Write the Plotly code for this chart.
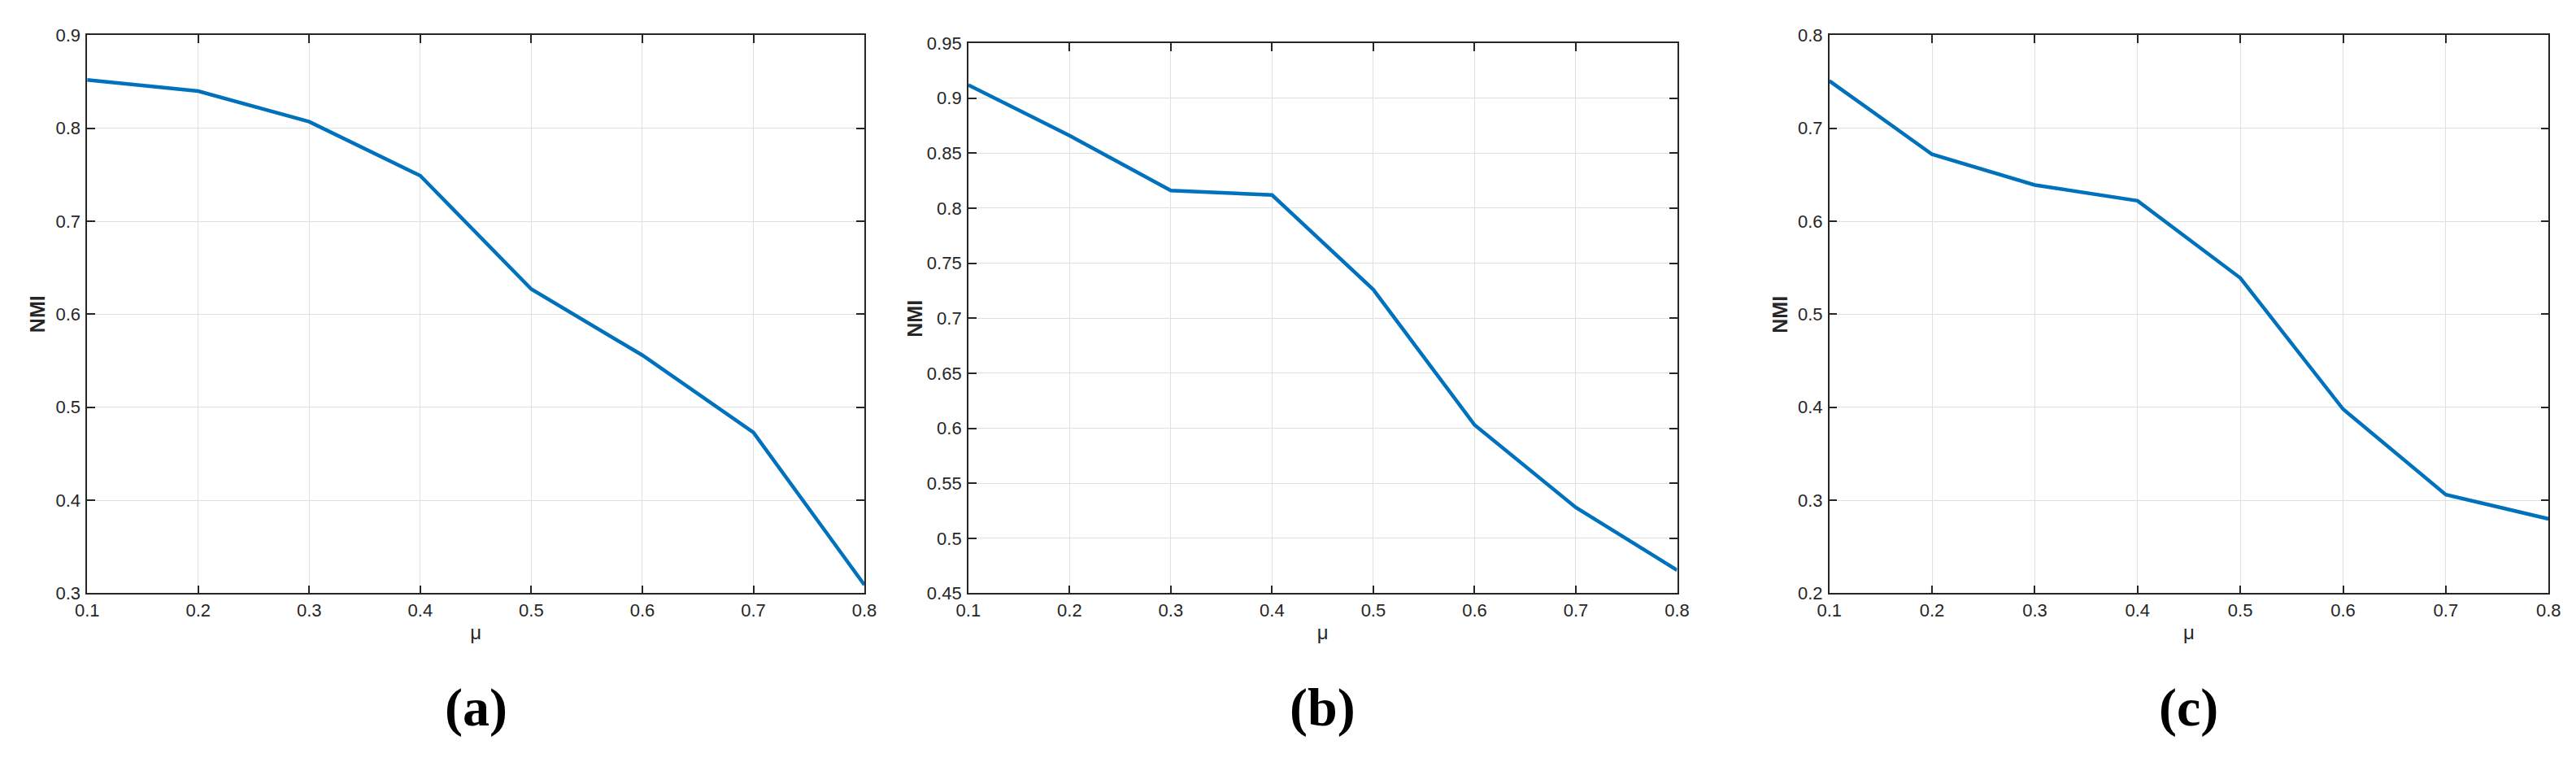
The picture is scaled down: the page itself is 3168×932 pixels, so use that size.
import plotly.graph_objects as go

mu = [0.1, 0.2, 0.3, 0.4, 0.5, 0.6, 0.7, 0.8]
nmi_a = [0.852, 0.840, 0.807, 0.749, 0.627, 0.556, 0.473, 0.309]
nmi_b = [0.912, 0.866, 0.816, 0.812, 0.726, 0.603, 0.528, 0.471]
nmi_c = [0.751, 0.672, 0.639, 0.622, 0.539, 0.398, 0.306, 0.280]

x_ticks = [0.1, 0.2, 0.3, 0.4, 0.5, 0.6, 0.7, 0.8]
x_ticktext = ["0.1", "0.2", "0.3", "0.4", "0.5", "0.6", "0.7", "0.8"]
ya_ticks = [0.3, 0.4, 0.5, 0.6, 0.7, 0.8, 0.9]
ya_text = ["0.3", "0.4", "0.5", "0.6", "0.7", "0.8", "0.9"]
yb_ticks = [0.45, 0.5, 0.55, 0.6, 0.65, 0.7, 0.75, 0.8, 0.85, 0.9, 0.95]
yb_text = ["0.45", "0.5", "0.55", "0.6", "0.65", "0.7", "0.75", "0.8", "0.85", "0.9", "0.95"]
yc_ticks = [0.2, 0.3, 0.4, 0.5, 0.6, 0.7, 0.8]
yc_text = ["0.2", "0.3", "0.4", "0.5", "0.6", "0.7", "0.8"]
panel_labels = ["(a)", "(b)", "(c)"]
x_title = "μ"
y_title = "NMI"

W, H = 3168, 932
LINE = "#0072BD"
AX = "#262626"
GRID = "#e0e0e0"

panels = [
    dict(y=nmi_a, yt=ya_ticks, ytt=ya_text, rng=[0.3, 0.9], x0=85, x1=1050, top=24, ylab=24),
    dict(y=nmi_b, yt=yb_ticks, ytt=yb_text, rng=[0.45, 0.95], x0=1179, x1=2059, top=34, ylab=1113),
    dict(y=nmi_c, yt=yc_ticks, ytt=yc_text, rng=[0.2, 0.8], x0=2248, x1=3141, top=24, ylab=2187),
]
bottom = 729

fig = go.Figure()
layout = dict(width=W, height=H, margin=dict(l=0, r=0, t=0, b=0),
              paper_bgcolor="white", plot_bgcolor="white", showlegend=False,
              font=dict(family="Liberation Sans, Arial, sans-serif", color=AX))
annotations = []
for i, p in enumerate(panels):
    n = "" if i == 0 else str(i + 1)
    fig.add_trace(go.Scatter(x=mu, y=p["y"], mode="lines",
                             line=dict(color=LINE, width=4.5),
                             xaxis="x" + n, yaxis="y" + n))
    common = dict(showline=True, linecolor=AX, linewidth=1.5, mirror="allticks",
                  ticks="inside", ticklen=10, tickwidth=1.5, tickcolor=AX,
                  showgrid=True, gridcolor=GRID, gridwidth=1.2, zeroline=False,
                  tickfont=dict(size=22, color=AX))
    layout["xaxis" + n] = dict(common, domain=[p["x0"] / W, p["x1"] / W],
                               range=[0.1, 0.8], tickvals=x_ticks, ticktext=x_ticktext,
                               anchor="y" + n,
                               title=dict(text=x_title, font=dict(size=24, color=AX), standoff=8))
    layout["yaxis" + n] = dict(common, domain=[(H - bottom) / H, (H - p["top"]) / H],
                               range=p["rng"], tickvals=p["yt"], ticktext=p["ytt"],
                               anchor="x" + n, ticklabelstandoff=2)
    annotations.append(dict(text="<b>" + y_title + "</b>", xref="paper", yref="paper",
                            x=p["ylab"] / W, y=(H - (p["top"] + bottom) / 2) / H,
                            xanchor="center", yanchor="middle", showarrow=False, textangle=-90,
                            font=dict(family="Liberation Sans, Arial, sans-serif", size=25, color=AX)))
    annotations.append(dict(text="<b>" + panel_labels[i] + "</b>", xref="paper", yref="paper",
                            x=(p["x0"] + p["x1"]) / 2 / W, y=(H - 873) / H,
                            xanchor="center", yanchor="middle", showarrow=False,
                            font=dict(family="Liberation Serif, Times New Roman, serif", size=66, color="black")))
layout["annotations"] = annotations
fig.update_layout(**layout)
fig.write_html("out.html")
